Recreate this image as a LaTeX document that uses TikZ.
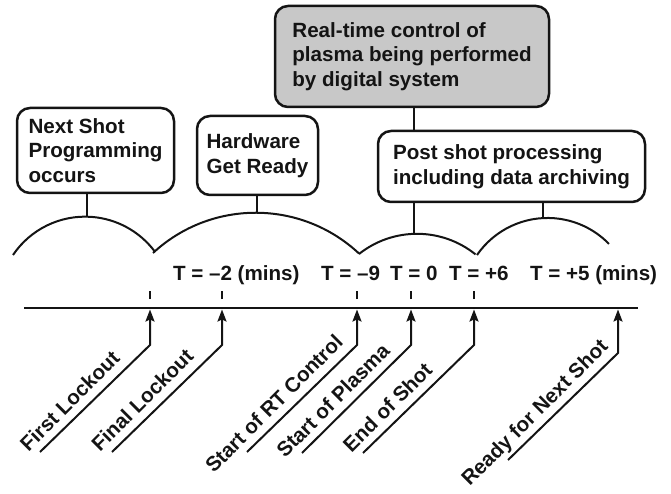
\documentclass[tikz,border=0pt]{standalone}
\usepackage{fontspec}
\setmainfont{Liberation Sans}
\usetikzlibrary{arrows.meta,calc}
\definecolor{ink}{RGB}{20,20,20}
\definecolor{shade}{RGB}{200,200,200}
\tikzset{
  every picture/.style={color=ink, line width=2pt, font=\fontsize{20.6}{24.5}\selectfont\bfseries},
  phase/.style={draw=ink, line width=2.5pt, rounded corners=13pt, fill=white, align=left, inner sep=0pt, outer sep=0pt},
  busy/.style={phase, fill=shade},
  hump/.style={line width=2pt},
  stem/.style={line width=2.5pt},
  tick/.style={line width=2.5pt},
  axis/.style={line width=2.5pt},
  pointer/.style={-{Stealth[length=12pt,width=9pt,inset=2pt]}, line width=2pt},
  evt/.style={rotate=45, anchor=base west, inner sep=0pt},
  tlbl/.style={anchor=base west, inner sep=0pt},
}

\begin{document}
\begin{tikzpicture}[x=1pt, y=1pt]
  \useasboundingbox (0,0) rectangle (671,493);
  % what happens during each phase of the shot cycle
  \node[phase, minimum width=157pt, minimum height=85pt] (prog) at (95.5,342.5) {Next Shot\\Programming\\occurs};
  \node[phase, minimum width=121pt, minimum height=79pt] (hw) at (257.5,337.5) {Hardware\\Get Ready};
  \node[busy, minimum width=274pt, minimum height=101pt] (rt) at (412,436.5) {Real-time control of\\plasma being performed\\by digital system};
  \node[phase, minimum width=267pt, minimum height=71pt] (post) at (511.5,326.5) {Post shot processing\\including data archiving};

  % humps spanning each phase
  \draw[hump] (13,238) arc[start angle=146, end angle=37, radius=87];
  \draw[hump] (153,240) arc[start angle=132.8, end angle=46.9, radius=151.2];
  \draw[hump] (359,239) arc[start angle=128.4, end angle=51.2, radius=93.4];
  \draw[hump] (477,238) arc[start angle=145.4, end angle=44.2, radius=85.7];
  \coordinate (top1) at (87,275.8);
  \coordinate (top2) at (257,280);
  \coordinate (top3) at (414,258);
  \coordinate (top4) at (543,275);

  \draw[stem] (prog.south -| top1) -- (top1);
  \draw[stem] (hw.south -| top2) -- (top2);
  \draw[stem] (rt.south -| top3) -- (post.north -| top3);
  \draw[stem] (post.south -| top3) -- (top3);
  \draw[stem] (post.south -| top4) -- (top4);

  % time axis
  \coordinate (ax0) at (24,185);
  \coordinate (ax1) at (638,185);
  \draw[axis] (ax0) -- (ax1);
  \draw[tick] (150,194) -- (150,202);
  \draw[tick] (222,194) -- (222,202);
  \draw[tick] (357,194) -- (357,202);
  \draw[tick] (411,194) -- (411,202);
  \draw[tick] (474,194) -- (474,202);

  \node[tlbl] (tm2) at (172,213) {T = \textendash2 (mins)};
  \node[tlbl] (tm9) at (320,213) {T = \textendash9};
  \node[tlbl] (t0) at (389,213) {T = 0};
  \node[tlbl] (tp6) at (448,213) {T = +6};
  \node[tlbl] (tp5) at (529,213) {T = +5 (mins)};

  % events pointing up at the axis
  \coordinate (b1) at (150,148);  \coordinate (d1) at (40,41);   \coordinate (p1) at (150,183.5);
  \coordinate (b2) at (222,148);  \coordinate (d2) at (112,41);  \coordinate (p2) at (222,183.5);
  \coordinate (b3) at (357,148);  \coordinate (d3) at (247,41);  \coordinate (p3) at (357,183.5);
  \coordinate (b4) at (411,148);  \coordinate (d4) at (302,40);  \coordinate (p4) at (411,183.5);
  \coordinate (b5) at (474,148);  \coordinate (d5) at (363,40);  \coordinate (p5) at (474,183.5);
  \coordinate (b6) at (618,140);  \coordinate (d6) at (508,33);  \coordinate (p6) at (618,183.5);
  \draw[pointer] (d1) -- (b1) -- (p1);
  \draw[pointer] (d2) -- (b2) -- (p2);
  \draw[pointer] (d3) -- (b3) -- (p3);
  \draw[pointer] (d4) -- (b4) -- (p4);
  \draw[pointer] (d5) -- (b5) -- (p5);
  \draw[pointer] (d6) -- (b6) -- (p6);

  \node[evt] (ev1) at ($(d1)+(-12,-1)$) {First Lockout};
  \node[evt] (ev2) at ($(d2)+(-12.7,-1.4)$) {Final Lockout};
  \node[evt] (ev3) at ($(d3)+(-33.9,-22.6)$) {Start of RT Control};
  \node[evt] (ev4) at ($(d4)+(-17.7,-6.4)$) {Start of Plasma};
  \node[evt] (ev5) at ($(d5)+(-12,-1)$) {End of Shot};
  \node[evt] (ev6) at ($(d6)+(-38.9,-27.6)$) {Ready for Next Shot};
\end{tikzpicture}
\end{document}
